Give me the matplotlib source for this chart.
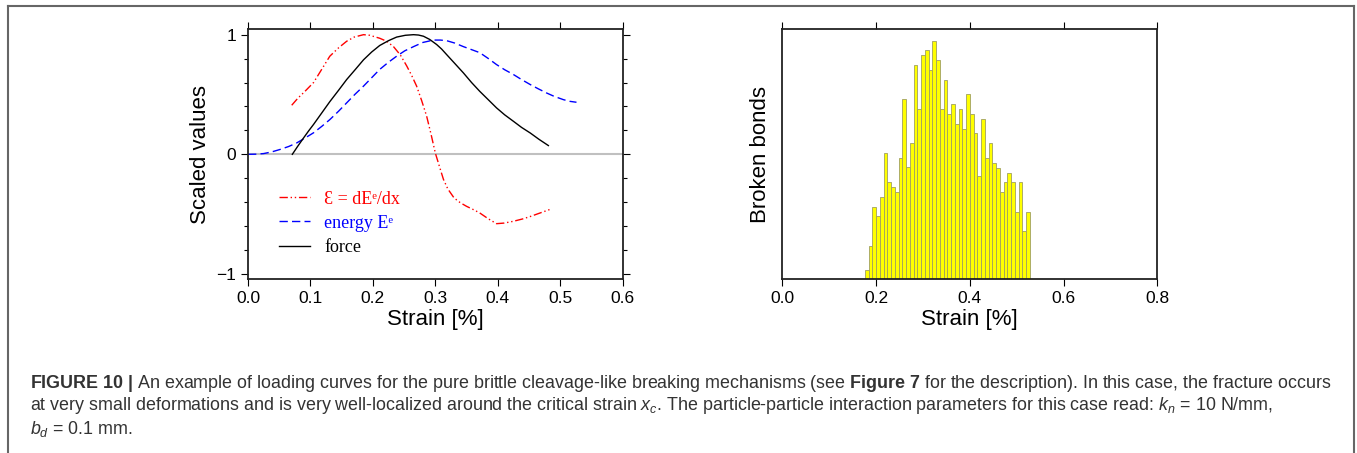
import matplotlib
matplotlib.use("Agg")
from matplotlib import pyplot as plt
from matplotlib.lines import Line2D
from matplotlib.ticker import MultipleLocator

plt.rcParams['font.family'] = ['Liberation Sans', 'DejaVu Sans']
plt.rcParams['mathtext.fontset'] = 'custom'
plt.rcParams['mathtext.rm'] = 'Liberation Sans'
plt.rcParams['mathtext.it'] = 'Liberation Sans:italic'
plt.rcParams['mathtext.bf'] = 'Liberation Sans:bold'

# left panel: scaled loading curves
eps_x = [0.070, 0.080, 0.090, 0.105, 0.118, 0.131, 0.145, 0.158, 0.170, 0.185,
         0.195, 0.211, 0.222, 0.233, 0.244, 0.254, 0.262, 0.270, 0.278, 0.286,
         0.293, 0.300, 0.307, 0.313, 0.320, 0.330, 0.340, 0.350, 0.360, 0.371,
         0.385, 0.398, 0.410, 0.425, 0.440, 0.452, 0.468, 0.484]
eps_y = [0.41, 0.47, 0.52, 0.60, 0.71, 0.82, 0.89, 0.945, 0.98, 1.00,
         0.995, 0.97, 0.945, 0.90, 0.83, 0.74, 0.66, 0.57, 0.45, 0.32,
         0.17, 0.01, -0.11, -0.21, -0.29, -0.365, -0.405, -0.435, -0.46, -0.49,
         -0.54, -0.58, -0.575, -0.56, -0.54, -0.52, -0.49, -0.46]

energy_x = [0.0, 0.012, 0.025, 0.038, 0.051, 0.065, 0.078, 0.091, 0.105, 0.118,
            0.131, 0.145, 0.158, 0.171, 0.185, 0.198, 0.211, 0.225, 0.238, 0.251,
            0.265, 0.280, 0.297, 0.308, 0.318, 0.331, 0.345, 0.358, 0.371, 0.385,
            0.398, 0.411, 0.425, 0.438, 0.452, 0.465, 0.478, 0.490, 0.505, 0.515, 0.526]
energy_y = [0.0, 0.001, 0.006, 0.02, 0.04, 0.065, 0.095, 0.135, 0.18, 0.233,
            0.29, 0.36, 0.43, 0.50, 0.57, 0.64, 0.71, 0.77, 0.82, 0.865,
            0.90, 0.935, 0.955, 0.955, 0.95, 0.93, 0.90, 0.875, 0.85, 0.80,
            0.75, 0.707, 0.667, 0.625, 0.583, 0.547, 0.513, 0.485, 0.457, 0.443, 0.435]

force_x = [0.071, 0.080, 0.089, 0.097, 0.105, 0.118, 0.131, 0.145, 0.158, 0.172,
           0.185, 0.198, 0.211, 0.225, 0.238, 0.252, 0.265, 0.273, 0.281, 0.291,
           0.302, 0.310, 0.318, 0.331, 0.345, 0.358, 0.371, 0.385, 0.398, 0.411,
           0.425, 0.438, 0.452, 0.466, 0.481]
force_y = [0.0, 0.07, 0.137, 0.195, 0.25, 0.345, 0.44, 0.535, 0.625, 0.71,
           0.79, 0.855, 0.91, 0.95, 0.98, 0.995, 1.0, 0.997, 0.987, 0.96,
           0.918, 0.88, 0.834, 0.76, 0.68, 0.60, 0.527, 0.455, 0.388, 0.33,
           0.276, 0.225, 0.178, 0.125, 0.073]

# right panel: histogram of broken bonds
bin_start = 0.176
bin_width = 0.008
bond_counts = [9, 33, 72, 63, 82, 126, 97, 92, 87, 121, 180, 112, 136, 214, 170,
               224, 229, 209, 238, 219, 170, 199, 165, 175, 155, 170, 150, 185, 165,
               146, 103, 160, 121, 136, 116, 111, 87, 97, 106, 97, 67, 97, 48, 67]

fig = plt.figure(figsize=(13.57, 4.53), dpi=100)

# frame around figure + caption
frame_col = '#666666'
fig.add_artist(Line2D([7.5/1357, 7.5/1357], [0, 447/453], transform=fig.transFigure, color=frame_col, lw=1.5))
fig.add_artist(Line2D([7.5/1357, 1353.5/1357], [447/453, 447/453], transform=fig.transFigure, color=frame_col, lw=1.5))
fig.add_artist(Line2D([1353.5/1357, 1353.5/1357], [0, 447/453], transform=fig.transFigure, color=frame_col, lw=1.5))

ax1 = fig.add_axes([248/1357, 173.7/453, 374.7/1357, 250/453])
ax2 = fig.add_axes([782.3/1357, 173.7/453, 375/1357, 250/453])

ax1.axhline(0, color='#c0c0c0', lw=1.5, zorder=1)
ax1.plot(eps_x, eps_y, color='red', lw=1.0, dashes=[6, 2, 1, 2, 1, 2], label='Ɛ = dEᵉ/dx')
ax1.plot(energy_x, energy_y, color='blue', lw=1.0, dashes=[6, 3], label='energy Eᵉ')
ax1.plot(force_x, force_y, color='black', lw=1.0, label='force')
ax1.set_xlim(0, 0.6)
ax1.set_ylim(-1.045, 1.045)
ax1.set_xticks([0.0, 0.1, 0.2, 0.3, 0.4, 0.5, 0.6])
ax1.set_xticklabels(['0.0', '0.1', '0.2', '0.3', '0.4', '0.5', '0.6'])
ax1.set_yticks([-1, 0, 1])
ax1.set_yticklabels(['\u22121', '0', '1'])
ax1.yaxis.set_minor_locator(MultipleLocator(0.2))
ax1.tick_params(which='both', direction='out', top=True, right=True, labelsize=12.5, width=0.8)
ax1.tick_params(which='major', length=5)
ax1.tick_params(which='minor', length=3)
ax1.set_xlabel('Strain [%]', fontsize=16, labelpad=2)
ax1.set_ylabel('Scaled values', fontsize=16, labelpad=4)
leg = ax1.legend(loc='upper left', bbox_to_anchor=(0.04, 0.42), frameon=False,
                 prop={'family': ['Liberation Serif', 'DejaVu Serif'], 'size': 13},
                 labelcolor=['red', 'blue', 'black'], handlelength=1.7, handletextpad=0.8,
                 labelspacing=0.4)

ax2.bar([bin_start + i * bin_width for i in range(len(bond_counts))], bond_counts,
        width=bin_width, align='edge', color='#ffff00', edgecolor='#a0a060', linewidth=0.6)
ax2.set_xlim(0, 0.8)
ax2.set_ylim(0, 250)
ax2.set_xticks([0.0, 0.2, 0.4, 0.6, 0.8])
ax2.set_xticklabels(['0.0', '0.2', '0.4', '0.6', '0.8'])
ax2.set_yticks([])
ax2.tick_params(direction='out', top=True, labelsize=12.5, length=5, width=0.8)
ax2.set_xlabel('Strain [%]', fontsize=16, labelpad=2)
ax2.set_ylabel('Broken bonds', fontsize=16, labelpad=8)

for ax in (ax1, ax2):
    for s in ax.spines.values():
        s.set_linewidth(1.3)
        s.set_color('#222222')

cap_size = 12.85
cap_col = '#333333'
line1 = (r'$\mathbf{FIGURE\ 10\ |}$ An example of loading curves for the pure brittle cleavage-like '
         r'breaking mechanisms (see $\mathbf{Figure\ 7}$ for the description). In this case, the fracture occurs')
line2 = (r'at very small deformations and is very well-localized around the critical strain $x_c$. '
         r'The particle-particle interaction parameters for this case read: $k_n$ = 10 N/mm,')
line3 = r'$b_d$ = 0.1 mm.'
fig.text(30/1357, 1 - 383/453, line1, fontsize=cap_size, color=cap_col, va='center')
fig.text(30/1357, 1 - 406/453, line2, fontsize=cap_size, color=cap_col, va='center')
fig.text(30/1357, 1 - 429/453, line3, fontsize=cap_size, color=cap_col, va='center')

fig.savefig('out.png', dpi=100)
